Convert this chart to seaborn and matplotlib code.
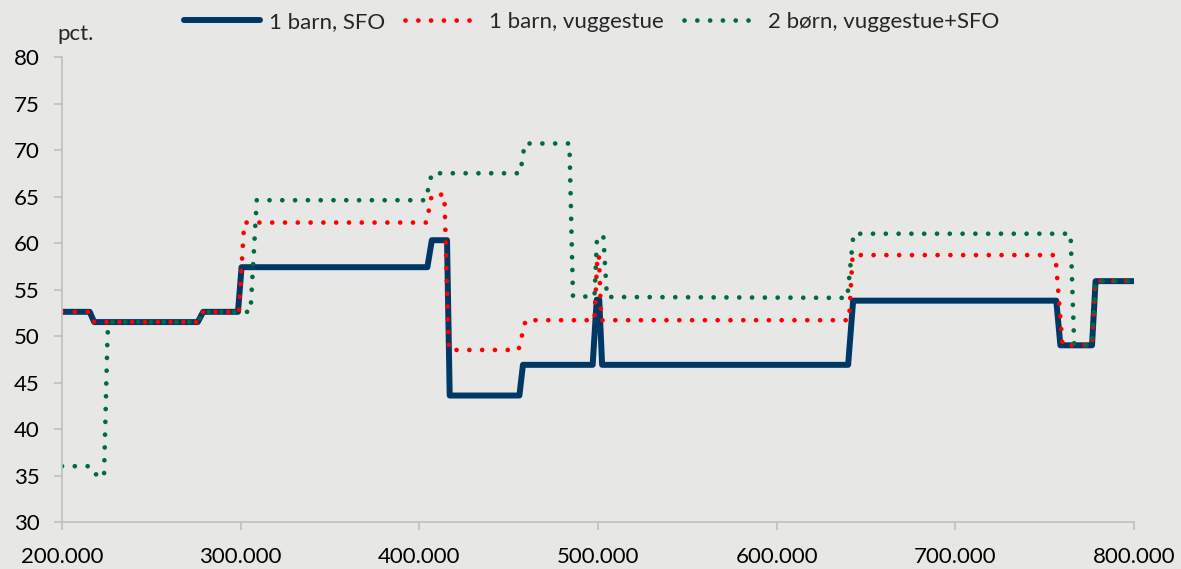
import matplotlib

matplotlib.use("Agg")

import matplotlib.pyplot as plt
import pandas as pd
import seaborn as sns
from matplotlib.ticker import FuncFormatter, MultipleLocator

# series (income in DKK, effective rate in pct.)
sfo_x = [200000, 215500, 218000, 276000, 279000, 298500, 300500, 404500, 407000,
         415500, 417000, 456000, 458000, 497000, 499300, 500700, 502300, 640000,
         642800, 756500, 758800, 776500, 778500, 800000]
sfo_y = [52.6, 52.6, 51.5, 51.5, 52.6, 52.6, 57.4, 57.4, 60.3, 60.3, 43.6, 43.6,
         46.9, 46.9, 53.9, 53.9, 46.9, 46.9, 53.8, 53.8, 49.0, 49.0, 55.9, 55.9]

vug_x = [200000, 215500, 218000, 276000, 279000, 299000, 302000, 404000, 407000,
         414000, 416500, 455500, 459500, 498000, 499700, 500500, 501800, 640500,
         642500, 756000, 760000, 776500, 778500, 800000]
vug_y = [52.6, 52.6, 51.5, 51.5, 52.6, 52.6, 62.2, 62.2, 65.2, 65.2, 48.5, 48.5,
         51.7, 51.7, 58.7, 58.7, 51.7, 51.7, 58.7, 58.7, 49.0, 49.0, 55.9, 55.9]

two_x = [200000, 215500, 218000, 223500, 225500, 227000, 276000, 279000, 305500,
         309000, 403500, 407000, 456500, 459000, 484000, 486000, 498000, 499500,
         503000, 505000, 639500, 643000, 764500, 766500, 772000, 776500, 778500,
         800000]
two_y = [36.0, 36.0, 35.2, 34.8, 50.3, 51.5, 51.5, 52.6, 52.6, 64.6, 64.6, 67.5,
         67.5, 70.7, 70.7, 54.3, 54.2, 60.7, 60.7, 54.2, 54.1, 61.0, 61.0, 49.2,
         49.0, 49.0, 55.9, 55.9]

labels = ["1 barn, SFO", "1 barn, vuggestue", "2 børn, vuggestue+SFO"]

BG = "#E7E7E5"
GREY = "#BFBFBF"
NAVY = "#003865"
RED = "#FF0000"
GREEN = "#006B3F"
FS = 16

sns.set_theme(style="ticks")
plt.rcParams["font.family"] = ["Lato", "DejaVu Sans"]
plt.rcParams["font.size"] = FS

fig = plt.figure(figsize=(11.81, 5.69), dpi=100, facecolor=BG)
ax = fig.add_axes([0.0525, 0.0826, 0.9077, 0.8172], facecolor=BG)

dot = (0, (0.01, 2.7))
series = [
    (sfo_x, sfo_y, labels[0], NAVY, 4.3, "-"),
    (vug_x, vug_y, labels[1], RED, 3.4, dot),
    (two_x, two_y, labels[2], GREEN, 3.4, dot),
]
for xs, ys, lab, col, lw, ls in series:
    df = pd.DataFrame({"x": xs, "y": ys})
    sns.lineplot(data=df, x="x", y="y", ax=ax, color=col, linewidth=lw,
                 linestyle=ls, label=lab, sort=False, estimator=None,
                 dash_capstyle="round", solid_capstyle="round",
                 solid_joinstyle="round")

ax.set_xlim(200000, 800000)
ax.set_ylim(30, 80)
ax.xaxis.set_major_locator(MultipleLocator(100000))
ax.yaxis.set_major_locator(MultipleLocator(5))
ax.xaxis.set_major_formatter(FuncFormatter(lambda v, _: f"{int(v):,}".replace(",", ".")))
ax.set_xlabel("")
ax.set_ylabel("")

sns.despine(ax=ax)
for side in ["left", "bottom"]:
    ax.spines[side].set_color(GREY)
    ax.spines[side].set_linewidth(1.2)
ax.tick_params(axis="both", colors=GREY, labelcolor="black", length=6, width=1.2,
               labelsize=FS)
ax.tick_params(axis="y", pad=10)
ax.tick_params(axis="x", pad=12)

fig.text(57 / 1181, 1 - 34 / 569, "pct.", ha="left", va="center", fontsize=FS)

leg = ax.legend(loc="center", bbox_to_anchor=(592 / 1181, 1 - 22 / 569),
                bbox_transform=fig.transFigure, ncol=3, frameon=False,
                handlelength=3.4, columnspacing=0.9, handletextpad=0.4,
                fontsize=FS)

fig.savefig("out.png", dpi=100, facecolor=BG)
